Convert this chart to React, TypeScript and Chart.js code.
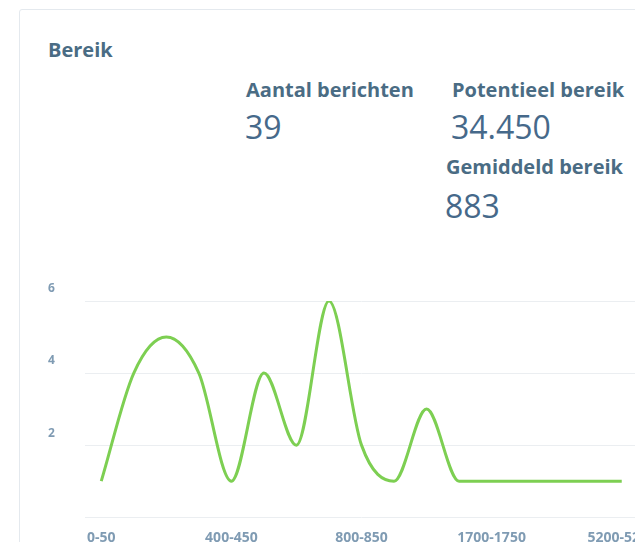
import React, { useEffect, useRef } from "react";
import { Chart, registerables } from "chart.js";

Chart.register(...registerables);

const categories = [
  "0-50", "50-100", "100-150", "200-250",
  "400-450", "450-500", "500-550", "600-650",
  "800-850", "900-950", "1000-1050", "1400-1450",
  "1700-1750", "2000-2050", "2600-2650", "3400-3450",
  "5200-5250",
];
const messageCounts = [1, 4, 5, 4, 1, 4, 2, 6, 2, 1, 3, 1, 1, 1, 1, 1, 1];
const yTicks = [2, 4, 6];

const title = "Bereik";
const statLabels = ["Aantal berichten", "Potentieel bereik", "Gemiddeld bereik"];
const statValues = ["39", "34.450", "883"];

const FONT = "'Open Sans', sans-serif";
const HEAD = "#4a6c84";
const NUM = "#46698a";
const TICK = "#7f9bb3";

export default function App() {
  const ref = useRef<HTMLCanvasElement | null>(null);

  useEffect(() => {
    if (!ref.current) return;
    const chart = new Chart(ref.current, {
      type: "line",
      data: {
        labels: categories,
        datasets: [
          {
            data: messageCounts,
            borderColor: "#7dcf52",
            borderWidth: 3,
            pointRadius: 0,
            fill: false,
            cubicInterpolationMode: "monotone",
          },
        ],
      },
      options: {
        animation: false,
        responsive: false,
        maintainAspectRatio: false,
        layout: { padding: { top: 21, right: 60, bottom: 0, left: 0 } },
        plugins: { legend: { display: false }, tooltip: { enabled: false } },
        scales: {
          x: {
            offset: true,
            grid: { display: false, drawTicks: false },
            border: { display: false },
            ticks: {
              autoSkip: false,
              maxRotation: 0,
              minRotation: 0,
              padding: 12,
              color: TICK,
              font: { family: FONT, size: 14, weight: "bold" },
              callback: (_v: any, i: number) => (i % 4 === 0 ? categories[i] : ""),
            },
          },
          y: {
            min: 0,
            max: 6,
            border: { display: false },
            grid: { color: "#ebeef1", drawTicks: false, lineWidth: 1 },
            afterFit: (scale: any) => {
              scale.width = 37;
            },
            ticks: {
              stepSize: 2,
              padding: 0,
              crossAlign: "far",
              labelOffset: -12,
              color: TICK,
              font: { family: FONT, size: 12, weight: "bold" },
              callback: (v: any) => (yTicks.includes(Number(v)) ? String(v) : ""),
            },
          },
        },
      },
    });
    return () => chart.destroy();
  }, []);

  const labelStyle: React.CSSProperties = {
    position: "absolute",
    fontFamily: FONT,
    fontWeight: 700,
    fontSize: 20,
    color: HEAD,
    whiteSpace: "nowrap",
  };
  const numStyle: React.CSSProperties = {
    position: "absolute",
    fontFamily: FONT,
    fontWeight: 400,
    fontSize: 32,
    color: NUM,
    whiteSpace: "nowrap",
  };

  return (
    <div
      style={{
        position: "fixed",
        left: 0,
        top: 0,
        width: 635,
        height: 542,
        overflow: "hidden",
        background: "#ffffff",
      }}
    >
      <div
        style={{
          position: "absolute",
          left: 19,
          top: 9,
          width: 720,
          height: 620,
          border: "1px solid #e4e9ee",
          borderRadius: 3,
          boxSizing: "border-box",
        }}
      />
      <div style={{ ...labelStyle, left: 48, top: 36 }}>{title}</div>
      <div style={{ ...labelStyle, left: 246, top: 76 }}>{statLabels[0]}</div>
      <div style={{ ...labelStyle, left: 452, top: 76 }}>{statLabels[1]}</div>
      <div style={{ ...numStyle, left: 245, top: 105 }}>{statValues[0]}</div>
      <div style={{ ...numStyle, left: 451, top: 105 }}>{statValues[1]}</div>
      <div style={{ ...labelStyle, left: 446, top: 153 }}>{statLabels[2]}</div>
      <div style={{ ...numStyle, left: 445, top: 184 }}>{statValues[2]}</div>
      <canvas
        ref={ref}
        width={650}
        height={278}
        style={{ position: "absolute", left: 48, top: 280, width: 650, height: 278 }}
      />
    </div>
  );
}
